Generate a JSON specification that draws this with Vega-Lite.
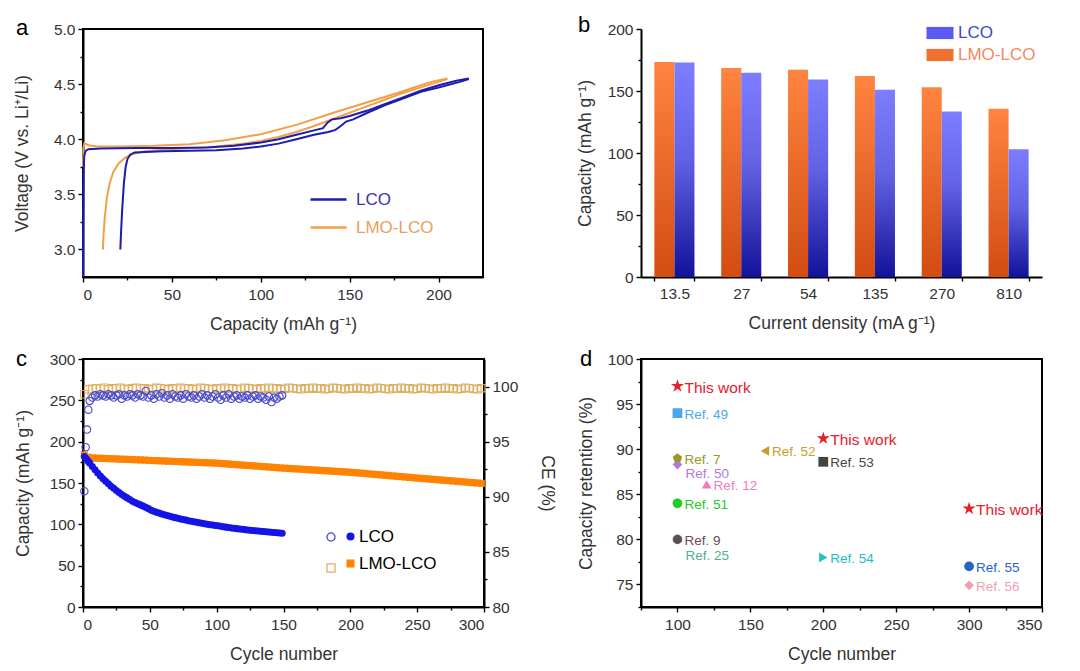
{
 "$schema": "https://vega.github.io/schema/vega-lite/v6.json",
 "background": "white",
 "padding": {"left": 12, "top": 14, "right": 10, "bottom": 10},
 "bounds": "flush",
 "columns": 2,
 "spacing": {"row": 82, "column": 157},
 "resolve": {"scale": {"x": "independent", "y": "independent", "color": "independent", "shape": "independent", "stroke": "independent", "fill": "independent", "size": "independent", "xOffset": "independent"}},
 "config": {
  "font": "Liberation Sans",
  "view": {"stroke": "#000", "strokeWidth": 2},
  "axis": {"grid": false, "domainColor": "#000", "domainWidth": 2, "tickColor": "#000", "tickWidth": 1.4, "labelFontSize": 15.5, "labelColor": "#333", "titleFontSize": 17.5, "titleColor": "#333", "titleFontWeight": "normal", "labelFont": "Liberation Sans", "titleFont": "Liberation Sans"},
  "axisX": {"labelPadding": 5, "titlePadding": 13},
  "axisY": {"labelPadding": 3},
  "title": {"fontSize": 22, "fontWeight": "normal", "anchor": "start", "frame": "group", "color": "#000", "offset": 0, "baseline": "alphabetic", "font": "Liberation Sans"},
  "legend": {"labelFont": "Liberation Sans"}
 },
 "concat": [
    {
     "width": 400, "height": 248,
     "title": {"text": "a", "dx": -67, "dy": 22},
     "data": {"values": [
      {"m":"LMO-LCO","k":"LMO-c","i":1,"x":0,"v":3.75},
      {"m":"LMO-LCO","k":"LMO-c","i":2,"x":0.2,"v":3.92},
      {"m":"LMO-LCO","k":"LMO-c","i":3,"x":0.8,"v":3.965},
      {"m":"LMO-LCO","k":"LMO-c","i":4,"x":3,"v":3.945},
      {"m":"LMO-LCO","k":"LMO-c","i":5,"x":8,"v":3.935},
      {"m":"LMO-LCO","k":"LMO-c","i":6,"x":20,"v":3.935},
      {"m":"LMO-LCO","k":"LMO-c","i":7,"x":40,"v":3.94},
      {"m":"LMO-LCO","k":"LMO-c","i":8,"x":60,"v":3.955},
      {"m":"LMO-LCO","k":"LMO-c","i":9,"x":80,"v":3.99},
      {"m":"LMO-LCO","k":"LMO-c","i":10,"x":100,"v":4.045},
      {"m":"LMO-LCO","k":"LMO-c","i":11,"x":120,"v":4.13},
      {"m":"LMO-LCO","k":"LMO-c","i":12,"x":140,"v":4.235},
      {"m":"LMO-LCO","k":"LMO-c","i":13,"x":160,"v":4.335},
      {"m":"LMO-LCO","k":"LMO-c","i":14,"x":170,"v":4.385},
      {"m":"LMO-LCO","k":"LMO-c","i":15,"x":180,"v":4.435},
      {"m":"LMO-LCO","k":"LMO-c","i":16,"x":190,"v":4.49},
      {"m":"LMO-LCO","k":"LMO-c","i":17,"x":197,"v":4.525},
      {"m":"LMO-LCO","k":"LMO-c","i":18,"x":205,"v":4.55},
      {"m":"LMO-LCO","k":"LMO-d","i":1,"x":205,"v":4.545},
      {"m":"LMO-LCO","k":"LMO-d","i":2,"x":200,"v":4.52},
      {"m":"LMO-LCO","k":"LMO-d","i":3,"x":190,"v":4.47},
      {"m":"LMO-LCO","k":"LMO-d","i":4,"x":180,"v":4.42},
      {"m":"LMO-LCO","k":"LMO-d","i":5,"x":170,"v":4.36},
      {"m":"LMO-LCO","k":"LMO-d","i":6,"x":160,"v":4.3},
      {"m":"LMO-LCO","k":"LMO-d","i":7,"x":150,"v":4.24},
      {"m":"LMO-LCO","k":"LMO-d","i":8,"x":140,"v":4.18},
      {"m":"LMO-LCO","k":"LMO-d","i":9,"x":130,"v":4.12},
      {"m":"LMO-LCO","k":"LMO-d","i":10,"x":120,"v":4.065},
      {"m":"LMO-LCO","k":"LMO-d","i":11,"x":110,"v":4.02},
      {"m":"LMO-LCO","k":"LMO-d","i":12,"x":100,"v":3.985},
      {"m":"LMO-LCO","k":"LMO-d","i":13,"x":90,"v":3.96},
      {"m":"LMO-LCO","k":"LMO-d","i":14,"x":75,"v":3.935},
      {"m":"LMO-LCO","k":"LMO-d","i":15,"x":60,"v":3.92},
      {"m":"LMO-LCO","k":"LMO-d","i":16,"x":45,"v":3.905},
      {"m":"LMO-LCO","k":"LMO-d","i":17,"x":35,"v":3.89},
      {"m":"LMO-LCO","k":"LMO-d","i":18,"x":28,"v":3.865},
      {"m":"LMO-LCO","k":"LMO-d","i":19,"x":24,"v":3.835},
      {"m":"LMO-LCO","k":"LMO-d","i":20,"x":20,"v":3.78},
      {"m":"LMO-LCO","k":"LMO-d","i":21,"x":17,"v":3.7},
      {"m":"LMO-LCO","k":"LMO-d","i":22,"x":15,"v":3.6},
      {"m":"LMO-LCO","k":"LMO-d","i":23,"x":13.5,"v":3.48},
      {"m":"LMO-LCO","k":"LMO-d","i":24,"x":12.3,"v":3.3},
      {"m":"LMO-LCO","k":"LMO-d","i":25,"x":11.5,"v":3.12},
      {"m":"LMO-LCO","k":"LMO-d","i":26,"x":11.2,"v":3.0},
      {"m":"LCO","k":"LCO-c","i":1,"x":0,"v":2.75},
      {"m":"LCO","k":"LCO-c","i":2,"x":0.15,"v":3.3},
      {"m":"LCO","k":"LCO-c","i":3,"x":0.35,"v":3.7},
      {"m":"LCO","k":"LCO-c","i":4,"x":0.7,"v":3.85},
      {"m":"LCO","k":"LCO-c","i":5,"x":1.5,"v":3.895},
      {"m":"LCO","k":"LCO-c","i":6,"x":3,"v":3.91},
      {"m":"LCO","k":"LCO-c","i":7,"x":10,"v":3.915},
      {"m":"LCO","k":"LCO-c","i":8,"x":30,"v":3.92},
      {"m":"LCO","k":"LCO-c","i":9,"x":50,"v":3.92},
      {"m":"LCO","k":"LCO-c","i":10,"x":70,"v":3.925},
      {"m":"LCO","k":"LCO-c","i":11,"x":85,"v":3.94},
      {"m":"LCO","k":"LCO-c","i":12,"x":100,"v":3.97},
      {"m":"LCO","k":"LCO-c","i":13,"x":110,"v":4.0},
      {"m":"LCO","k":"LCO-c","i":14,"x":120,"v":4.04},
      {"m":"LCO","k":"LCO-c","i":15,"x":130,"v":4.08},
      {"m":"LCO","k":"LCO-c","i":16,"x":135,"v":4.1},
      {"m":"LCO","k":"LCO-c","i":17,"x":137.5,"v":4.15},
      {"m":"LCO","k":"LCO-c","i":18,"x":140,"v":4.18},
      {"m":"LCO","k":"LCO-c","i":19,"x":145,"v":4.19},
      {"m":"LCO","k":"LCO-c","i":20,"x":150,"v":4.21},
      {"m":"LCO","k":"LCO-c","i":21,"x":160,"v":4.26},
      {"m":"LCO","k":"LCO-c","i":22,"x":170,"v":4.32},
      {"m":"LCO","k":"LCO-c","i":23,"x":180,"v":4.38},
      {"m":"LCO","k":"LCO-c","i":24,"x":190,"v":4.44},
      {"m":"LCO","k":"LCO-c","i":25,"x":200,"v":4.49},
      {"m":"LCO","k":"LCO-c","i":26,"x":210,"v":4.53},
      {"m":"LCO","k":"LCO-c","i":27,"x":217,"v":4.55},
      {"m":"LCO","k":"LCO-d","i":1,"x":217,"v":4.545},
      {"m":"LCO","k":"LCO-d","i":2,"x":212,"v":4.52},
      {"m":"LCO","k":"LCO-d","i":3,"x":200,"v":4.47},
      {"m":"LCO","k":"LCO-d","i":4,"x":190,"v":4.43},
      {"m":"LCO","k":"LCO-d","i":5,"x":180,"v":4.37},
      {"m":"LCO","k":"LCO-d","i":6,"x":170,"v":4.31},
      {"m":"LCO","k":"LCO-d","i":7,"x":160,"v":4.24},
      {"m":"LCO","k":"LCO-d","i":8,"x":152,"v":4.18},
      {"m":"LCO","k":"LCO-d","i":9,"x":148,"v":4.16},
      {"m":"LCO","k":"LCO-d","i":10,"x":145,"v":4.12},
      {"m":"LCO","k":"LCO-d","i":11,"x":142,"v":4.085},
      {"m":"LCO","k":"LCO-d","i":12,"x":138,"v":4.065},
      {"m":"LCO","k":"LCO-d","i":13,"x":130,"v":4.04},
      {"m":"LCO","k":"LCO-d","i":14,"x":120,"v":4.0},
      {"m":"LCO","k":"LCO-d","i":15,"x":110,"v":3.96},
      {"m":"LCO","k":"LCO-d","i":16,"x":100,"v":3.935},
      {"m":"LCO","k":"LCO-d","i":17,"x":90,"v":3.915},
      {"m":"LCO","k":"LCO-d","i":18,"x":75,"v":3.9},
      {"m":"LCO","k":"LCO-d","i":19,"x":60,"v":3.895},
      {"m":"LCO","k":"LCO-d","i":20,"x":45,"v":3.89},
      {"m":"LCO","k":"LCO-d","i":21,"x":35,"v":3.885},
      {"m":"LCO","k":"LCO-d","i":22,"x":29,"v":3.88},
      {"m":"LCO","k":"LCO-d","i":23,"x":26.5,"v":3.86},
      {"m":"LCO","k":"LCO-d","i":24,"x":25,"v":3.82},
      {"m":"LCO","k":"LCO-d","i":25,"x":24,"v":3.75},
      {"m":"LCO","k":"LCO-d","i":26,"x":23,"v":3.6},
      {"m":"LCO","k":"LCO-d","i":27,"x":22,"v":3.35},
      {"m":"LCO","k":"LCO-d","i":28,"x":21.3,"v":3.12},
      {"m":"LCO","k":"LCO-d","i":29,"x":21,"v":3.0}
     ]},
     "mark": {"type": "line", "strokeWidth": 2},
     "encoding": {
      "x": {"field": "x", "type": "quantitative", "scale": {"domain": [0, 225], "nice": false},
            "axis": {"title": "Capacity (mAh g⁻¹)", "values": [0,25,50,75,100,125,150,175,200], "labelExpr": "datum.value % 50 == 0 ? datum.label : ''", "tickSize": {"condition": {"test": "datum.value % 50 == 0", "value": 5}, "value": 3}}},
      "y": {"field": "v", "type": "quantitative", "scale": {"domain": [2.75, 5.0], "nice": false, "zero": false},
            "axis": {"title": "Voltage (V vs. Li⁺/Li)", "titlePadding": 22, "format": ".1f", "values": [3.0,3.25,3.5,3.75,4.0,4.25,4.5,4.75,5.0], "labelExpr": "abs(datum.value*2 - round(datum.value*2)) < 0.001 ? datum.label : ''", "tickSize": {"condition": {"test": "abs(datum.value*2 - round(datum.value*2)) < 0.001", "value": 5}, "value": 3}}},
      "color": {"field": "m", "type": "nominal", "scale": {"domain": ["LCO", "LMO-LCO"], "range": ["#1c1cae", "#f2a046"]},
                "legend": {"title": null, "orient": "none", "legendX": 226, "legendY": 151, "symbolType": "stroke", "symbolSize": 1300, "symbolStrokeWidth": 2.5, "labelFontSize": 17, "labelOffset": 8, "rowPadding": -9, "padding": 0,
                           "encode": {"labels": {"update": {"fill": {"signal": "datum.label == 'LCO' ? '#3535a8' : '#e8a060'"}}}}}},
      "detail": {"field": "k"},
      "order": {"field": "i", "type": "quantitative"}
     }
    },
    {
     "width": 401, "height": 248,
     "title": {"text": "b", "dx": -63, "dy": 22},
     "view": {"stroke": null},
     "data": {"values": [
      {"d":"13.5","m":"LMO-LCO","q":173.4},{"d":"13.5","m":"LCO","q":172.9},
      {"d":"27","m":"LMO-LCO","q":168.6},{"d":"27","m":"LCO","q":164.8},
      {"d":"54","m":"LMO-LCO","q":167.2},{"d":"54","m":"LCO","q":159.2},
      {"d":"135","m":"LMO-LCO","q":162.1},{"d":"135","m":"LCO","q":151.1},
      {"d":"270","m":"LMO-LCO","q":153.0},{"d":"270","m":"LCO","q":133.4},
      {"d":"810","m":"LMO-LCO","q":135.6},{"d":"810","m":"LCO","q":103.1}
     ]},
     "encoding": {
      "x": {"field": "d", "type": "nominal", "sort": ["13.5","27","54","135","270","810"], "scale": {"paddingInner": 0.4, "paddingOuter": 0.2},
            "axis": {"title": "Current density (mA g⁻¹)", "labelAngle": 0, "tickBand": "extent", "tickSize": 4}},
      "xOffset": {"field": "m", "type": "nominal", "scale": {"domain": ["LMO-LCO", "LCO"]}},
      "y": {"field": "q", "type": "quantitative", "stack": null, "scale": {"domain": [0, 200], "nice": false},
            "axis": {"title": "Capacity (mAh g⁻¹)", "titlePadding": 13, "values": [0,25,50,75,100,125,150,175,200], "labelExpr": "datum.value % 50 == 0 ? datum.label : ''", "tickSize": {"condition": {"test": "datum.value % 50 == 0", "value": 5}, "value": 3}}}
     },
     "layer": [
      {"transform": [{"filter": "datum.m == 'LMO-LCO'"}],
       "mark": {"type": "bar", "color": {"gradient": "linear", "x1": 0, "y1": 0, "x2": 0, "y2": 1, "stops": [{"offset": 0, "color": "#ff8440"}, {"offset": 1, "color": "#d34c12"}]}}},
      {"transform": [{"filter": "datum.m == 'LCO'"}],
       "mark": {"type": "bar", "color": {"gradient": "linear", "x1": 0, "y1": 0, "x2": 0, "y2": 1, "stops": [{"offset": 0, "color": "#7d7dff"}, {"offset": 0.45, "color": "#6262e4"}, {"offset": 1, "color": "#12129a"}]}}},
      {"mark": {"type": "bar", "opacity": 0},
       "encoding": {"color": {"field": "m", "type": "nominal", "scale": {"domain": ["LCO", "LMO-LCO"], "range": ["#5a5af0", "#f07030"]},
         "legend": {"title": null, "orient": "none", "legendX": 285, "legendY": -10, "symbolType": "M-1,-0.45L1,-0.45L1,0.45L-1,0.45Z", "symbolSize": 730, "labelFontSize": 17, "labelOffset": 4, "rowPadding": -7, "padding": 0,
           "encode": {
             "symbols": {"update": {"opacity": {"value": 1}, "fillOpacity": {"value": 1}, "strokeWidth": {"value": 0}, "fill": {"signal": "datum.label == 'LCO' ? {gradient: 'linear', x1: 0, y1: 0, x2: 0, y2: 1, stops: [{offset: 0, color: '#8080ff'}, {offset: 1, color: '#2a2ab8'}]} : {gradient: 'linear', x1: 0, y1: 0, x2: 0, y2: 1, stops: [{offset: 0, color: '#ff8a48'}, {offset: 1, color: '#dc5418'}]}"}}},
             "labels": {"update": {"fill": {"signal": "datum.label == 'LCO' ? '#4646cc' : '#f08a60'"}}}
           }}}}}
     ]
    },
    {
     "width": 401, "height": 248,
     "title": {"text": "c", "dx": -67, "dy": 23},
     "data": {"values": [
      {"m":"LMO-LCO","c":1,"q":184,"e":99.3},{"m":"LMO-LCO","c":4,"q":181,"e":99.75},{"m":"LMO-LCO","c":7,"q":180.3,"e":99.8},{"m":"LMO-LCO","c":10,"q":180.1,"e":99.85},
      {"m":"LMO-LCO","c":13,"q":179.9,"e":99.8},{"m":"LMO-LCO","c":16,"q":179.7,"e":99.9},{"m":"LMO-LCO","c":19,"q":179.5,"e":99.75},{"m":"LMO-LCO","c":22,"q":179.3,"e":99.85},
      {"m":"LMO-LCO","c":25,"q":179.1,"e":99.8},{"m":"LMO-LCO","c":28,"q":178.9,"e":99.9},{"m":"LMO-LCO","c":31,"q":178.7,"e":99.8},{"m":"LMO-LCO","c":34,"q":178.5,"e":99.75},
      {"m":"LMO-LCO","c":37,"q":178.3,"e":99.85},{"m":"LMO-LCO","c":40,"q":178.1,"e":99.9},{"m":"LMO-LCO","c":43,"q":177.9,"e":99.8},{"m":"LMO-LCO","c":46,"q":177.7,"e":99.85},
      {"m":"LMO-LCO","c":49,"q":177.4,"e":99.75},{"m":"LMO-LCO","c":52,"q":177.2,"e":99.8},{"m":"LMO-LCO","c":55,"q":177.0,"e":99.9},{"m":"LMO-LCO","c":58,"q":176.8,"e":99.85},
      {"m":"LMO-LCO","c":61,"q":176.6,"e":99.8},{"m":"LMO-LCO","c":64,"q":176.4,"e":99.75},{"m":"LMO-LCO","c":67,"q":176.2,"e":99.85},{"m":"LMO-LCO","c":70,"q":176.0,"e":99.8},
      {"m":"LMO-LCO","c":73,"q":175.8,"e":99.9},{"m":"LMO-LCO","c":76,"q":175.6,"e":99.8},{"m":"LMO-LCO","c":79,"q":175.4,"e":99.85},{"m":"LMO-LCO","c":82,"q":175.2,"e":99.75},
      {"m":"LMO-LCO","c":85,"q":175.0,"e":99.8},{"m":"LMO-LCO","c":88,"q":174.8,"e":99.9},{"m":"LMO-LCO","c":91,"q":174.6,"e":99.85},{"m":"LMO-LCO","c":94,"q":174.4,"e":99.8},
      {"m":"LMO-LCO","c":97,"q":174.2,"e":99.75},{"m":"LMO-LCO","c":100,"q":174.0,"e":99.85},{"m":"LMO-LCO","c":103,"q":173.6,"e":99.8},{"m":"LMO-LCO","c":106,"q":173.3,"e":99.9},
      {"m":"LMO-LCO","c":109,"q":172.9,"e":99.8},{"m":"LMO-LCO","c":112,"q":172.6,"e":99.85},{"m":"LMO-LCO","c":115,"q":172.2,"e":99.75},{"m":"LMO-LCO","c":118,"q":171.8,"e":99.8},
      {"m":"LMO-LCO","c":121,"q":171.5,"e":99.9},{"m":"LMO-LCO","c":124,"q":171.1,"e":99.85},{"m":"LMO-LCO","c":127,"q":170.8,"e":99.8},{"m":"LMO-LCO","c":130,"q":170.4,"e":99.75},
      {"m":"LMO-LCO","c":133,"q":170.0,"e":99.85},{"m":"LMO-LCO","c":136,"q":169.7,"e":99.8},{"m":"LMO-LCO","c":139,"q":169.3,"e":99.9},{"m":"LMO-LCO","c":142,"q":169.0,"e":99.8},
      {"m":"LMO-LCO","c":145,"q":168.6,"e":99.85},{"m":"LMO-LCO","c":148,"q":168.2,"e":99.75},{"m":"LMO-LCO","c":151,"q":167.9,"e":99.8},{"m":"LMO-LCO","c":154,"q":167.6,"e":99.9},
      {"m":"LMO-LCO","c":157,"q":167.3,"e":99.85},{"m":"LMO-LCO","c":160,"q":167.0,"e":99.8},{"m":"LMO-LCO","c":163,"q":166.7,"e":99.75},{"m":"LMO-LCO","c":166,"q":166.4,"e":99.85},
      {"m":"LMO-LCO","c":169,"q":166.1,"e":99.8},{"m":"LMO-LCO","c":172,"q":165.8,"e":99.9},{"m":"LMO-LCO","c":175,"q":165.5,"e":99.8},{"m":"LMO-LCO","c":178,"q":165.2,"e":99.85},
      {"m":"LMO-LCO","c":181,"q":164.9,"e":99.75},{"m":"LMO-LCO","c":184,"q":164.6,"e":99.8},{"m":"LMO-LCO","c":187,"q":164.3,"e":99.9},{"m":"LMO-LCO","c":190,"q":164.0,"e":99.85},
      {"m":"LMO-LCO","c":193,"q":163.7,"e":99.8},{"m":"LMO-LCO","c":196,"q":163.4,"e":99.75},{"m":"LMO-LCO","c":199,"q":163.1,"e":99.85},{"m":"LMO-LCO","c":202,"q":162.7,"e":99.8},
      {"m":"LMO-LCO","c":205,"q":162.3,"e":99.9},{"m":"LMO-LCO","c":208,"q":161.9,"e":99.8},{"m":"LMO-LCO","c":211,"q":161.5,"e":99.85},{"m":"LMO-LCO","c":214,"q":161.0,"e":99.75},
      {"m":"LMO-LCO","c":217,"q":160.6,"e":99.8},{"m":"LMO-LCO","c":220,"q":160.2,"e":99.9},{"m":"LMO-LCO","c":223,"q":159.8,"e":99.85},{"m":"LMO-LCO","c":226,"q":159.4,"e":99.8},
      {"m":"LMO-LCO","c":229,"q":158.9,"e":99.75},{"m":"LMO-LCO","c":232,"q":158.5,"e":99.85},{"m":"LMO-LCO","c":235,"q":158.1,"e":99.8},{"m":"LMO-LCO","c":238,"q":157.7,"e":99.9},
      {"m":"LMO-LCO","c":241,"q":157.3,"e":99.8},{"m":"LMO-LCO","c":244,"q":156.8,"e":99.85},{"m":"LMO-LCO","c":247,"q":156.4,"e":99.75},{"m":"LMO-LCO","c":250,"q":156.0,"e":99.8},
      {"m":"LMO-LCO","c":253,"q":155.6,"e":99.9},{"m":"LMO-LCO","c":256,"q":155.2,"e":99.85},{"m":"LMO-LCO","c":259,"q":154.8,"e":99.8},{"m":"LMO-LCO","c":262,"q":154.4,"e":99.75},
      {"m":"LMO-LCO","c":265,"q":154.0,"e":99.85},{"m":"LMO-LCO","c":268,"q":153.6,"e":99.8},{"m":"LMO-LCO","c":271,"q":153.2,"e":99.9},{"m":"LMO-LCO","c":274,"q":152.8,"e":99.8},
      {"m":"LMO-LCO","c":277,"q":152.4,"e":99.85},{"m":"LMO-LCO","c":280,"q":152.0,"e":99.75},{"m":"LMO-LCO","c":283,"q":151.6,"e":99.8},{"m":"LMO-LCO","c":286,"q":151.2,"e":99.9},
      {"m":"LMO-LCO","c":289,"q":150.8,"e":99.85},{"m":"LMO-LCO","c":292,"q":150.4,"e":99.8},{"m":"LMO-LCO","c":295,"q":150.0,"e":99.75},{"m":"LMO-LCO","c":298,"q":149.6,"e":99.85},
      {"m":"LCO","c":1,"q":182,"e":90.5},{"m":"LCO","c":2,"q":180,"e":94.5},{"m":"LCO","c":3,"q":178,"e":96.1},{"m":"LCO","c":4,"q":176,"e":97.9},{"m":"LCO","c":5,"q":174,"e":98.7},
      {"m":"LCO","c":7,"q":170,"e":99.0},{"m":"LCO","c":9,"q":166,"e":99.2},{"m":"LCO","c":11,"q":162,"e":99.1},{"m":"LCO","c":13,"q":158.5,"e":99.3},
      {"m":"LCO","c":15,"q":155,"e":99.2},{"m":"LCO","c":17,"q":152,"e":99.1},{"m":"LCO","c":19,"q":149,"e":99.3},{"m":"LCO","c":21,"q":146,"e":99.2},
      {"m":"LCO","c":23,"q":143.5,"e":99.0},{"m":"LCO","c":25,"q":141,"e":99.2},{"m":"LCO","c":27,"q":138.5,"e":99.3},{"m":"LCO","c":29,"q":136,"e":98.9},
      {"m":"LCO","c":31,"q":134,"e":99.2},{"m":"LCO","c":33,"q":132,"e":99.1},{"m":"LCO","c":35,"q":130,"e":99.3},{"m":"LCO","c":37,"q":128,"e":99.2},
      {"m":"LCO","c":39,"q":126.5,"e":99.0},{"m":"LCO","c":41,"q":125,"e":99.3},{"m":"LCO","c":43,"q":123.5,"e":99.2},{"m":"LCO","c":45,"q":122,"e":99.1},
      {"m":"LCO","c":47,"q":120.5,"e":99.6},{"m":"LCO","c":49,"q":119,"e":99.0},{"m":"LCO","c":51,"q":117,"e":99.2},{"m":"LCO","c":53,"q":115.8,"e":98.9},
      {"m":"LCO","c":55,"q":114.7,"e":99.3},{"m":"LCO","c":57,"q":113.6,"e":99.1},{"m":"LCO","c":59,"q":112.6,"e":99.4},{"m":"LCO","c":61,"q":111.6,"e":99.0},
      {"m":"LCO","c":63,"q":110.7,"e":99.2},{"m":"LCO","c":65,"q":109.8,"e":98.9},{"m":"LCO","c":67,"q":108.9,"e":99.3},{"m":"LCO","c":69,"q":108.1,"e":99.1},
      {"m":"LCO","c":71,"q":107.3,"e":99.0},{"m":"LCO","c":73,"q":106.5,"e":99.2},{"m":"LCO","c":75,"q":105.8,"e":98.9},{"m":"LCO","c":77,"q":105.1,"e":99.3},
      {"m":"LCO","c":79,"q":104.4,"e":99.1},{"m":"LCO","c":81,"q":103.7,"e":99.0},{"m":"LCO","c":83,"q":103.1,"e":99.2},{"m":"LCO","c":85,"q":102.5,"e":98.9},
      {"m":"LCO","c":87,"q":101.9,"e":99.1},{"m":"LCO","c":89,"q":101.3,"e":99.3},{"m":"LCO","c":91,"q":100.7,"e":99.0},{"m":"LCO","c":93,"q":100.1,"e":99.2},
      {"m":"LCO","c":95,"q":99.6,"e":98.9},{"m":"LCO","c":97,"q":99.1,"e":99.1},{"m":"LCO","c":99,"q":98.6,"e":99.3},{"m":"LCO","c":101,"q":98.2,"e":99.0},
      {"m":"LCO","c":103,"q":97.6,"e":98.8},{"m":"LCO","c":105,"q":97.1,"e":99.2},{"m":"LCO","c":107,"q":96.6,"e":99.0},{"m":"LCO","c":109,"q":96.1,"e":99.3},
      {"m":"LCO","c":111,"q":95.6,"e":98.9},{"m":"LCO","c":113,"q":95.2,"e":99.1},{"m":"LCO","c":115,"q":94.8,"e":99.2},{"m":"LCO","c":117,"q":94.4,"e":98.9},
      {"m":"LCO","c":119,"q":94.0,"e":99.1},{"m":"LCO","c":121,"q":93.6,"e":99.0},{"m":"LCO","c":123,"q":93.2,"e":99.2},{"m":"LCO","c":125,"q":92.8,"e":98.9},
      {"m":"LCO","c":127,"q":92.5,"e":99.1},{"m":"LCO","c":129,"q":92.2,"e":99.2},{"m":"LCO","c":131,"q":91.9,"e":98.9},{"m":"LCO","c":133,"q":91.6,"e":99.1},
      {"m":"LCO","c":135,"q":91.3,"e":99.0},{"m":"LCO","c":137,"q":91.0,"e":98.8},{"m":"LCO","c":139,"q":90.7,"e":99.1},{"m":"LCO","c":141,"q":90.4,"e":98.6},
      {"m":"LCO","c":143,"q":90.1,"e":99.0},{"m":"LCO","c":145,"q":89.8,"e":98.9},{"m":"LCO","c":147,"q":89.5,"e":99.1},{"m":"LCO","c":149,"q":89.3,"e":99.2}
     ]},
     "encoding": {
      "x": {"field": "c", "type": "quantitative", "scale": {"domain": [0, 300], "nice": false},
            "axis": {"title": "Cycle number", "values": [0,25,50,75,100,125,150,175,200,225,250,275,300], "labelExpr": "datum.value % 50 == 0 ? datum.label : ''", "tickSize": {"condition": {"test": "datum.value % 50 == 0", "value": 5}, "value": 3}}}
     },
     "layer": [
      {
       "mark": {"type": "point", "filled": false, "size": 55, "strokeWidth": 1.1, "opacity": 1},
       "encoding": {
        "y": {"field": "e", "type": "quantitative", "scale": {"domain": [80, 102.5], "nice": false, "zero": false},
              "axis": {"orient": "right", "title": "CE (%)", "titlePadding": 20, "format": "d", "values": [80,82.5,85,87.5,90,92.5,95,97.5,100], "labelExpr": "datum.value % 5 == 0 ? datum.label : ''", "tickSize": {"condition": {"test": "datum.value % 5 == 0", "value": 5}, "value": 3}}},
        "stroke": {"field": "m", "type": "nominal", "scale": {"range": ["#4848cc", "#e2ae5e"]},
                   "legend": {"title": null, "orient": "none", "legendX": 243, "legendY": 173, "labelExpr": "''", "symbolSize": 65, "symbolStrokeWidth": 1.3, "rowPadding": 17, "padding": 0}},
        "shape": {"field": "m", "type": "nominal", "scale": {"range": ["circle", "square"]}}
       }
      },
      {
       "transform": [{"calculate": "datum.m", "as": "mat"}],
       "mark": {"type": "point", "filled": true, "size": 50, "opacity": 1},
       "encoding": {
        "y": {"field": "q", "type": "quantitative", "scale": {"domain": [0, 300], "nice": false},
              "axis": {"orient": "left", "title": "Capacity (mAh g⁻¹)", "titlePadding": 17, "values": [0,25,50,75,100,125,150,175,200,225,250,275,300], "labelExpr": "datum.value % 50 == 0 ? datum.label : ''", "tickSize": {"condition": {"test": "datum.value % 50 == 0", "value": 5}, "value": 3}}},
        "fill": {"field": "mat", "type": "nominal", "scale": {"range": ["#1414e6", "#ff8200"]},
                 "legend": {"title": null, "orient": "none", "legendX": 259, "legendY": 169, "symbolSize": 65, "labelFontSize": 17, "labelOffset": 0, "rowPadding": 9, "padding": 0,
                            "encode": {"labels": {"update": {"fill": {"signal": "datum.label == 'LCO' ? '#2a2ab5' : '#e8a060'"}}}}}},
        "shape": {"field": "mat", "type": "nominal", "scale": {"range": ["circle", "square"]}}
       }
      }
     ],
     "resolve": {"scale": {"y": "independent", "shape": "independent", "stroke": "independent", "fill": "independent"}}
    },
    {
     "width": 401, "height": 248,
     "title": {"text": "d", "dx": -61, "dy": 23},
     "data": {"values": [
      {"ref":"This work","n":100,"r":97},
      {"ref":"This work","n":200,"r":91.2},
      {"ref":"This work","n":300,"r":83.4},
      {"ref":"Ref. 25","n":100,"r":80},
      {"ref":"Ref. 49","n":100,"r":94},
      {"ref":"Ref. 50","n":100,"r":88.3},
      {"ref":"Ref. 7","n":100,"r":89},
      {"ref":"Ref. 12","n":120,"r":86.1},
      {"ref":"Ref. 51","n":100,"r":84},
      {"ref":"Ref. 9","n":100,"r":80},
      {"ref":"Ref. 52","n":160,"r":89.8},
      {"ref":"Ref. 53","n":200,"r":88.6},
      {"ref":"Ref. 54","n":200,"r":78},
      {"ref":"Ref. 55","n":300,"r":77},
      {"ref":"Ref. 56","n":300,"r":74.9}
     ]},
     "encoding": {
      "x": {"field": "n", "type": "quantitative", "scale": {"domain": [75, 350], "nice": false, "zero": false},
            "axis": {"title": "Cycle number", "values": [75,100,125,150,175,200,225,250,275,300,325,350], "labelExpr": "datum.value % 50 == 0 ? datum.label : ''", "tickSize": {"condition": {"test": "datum.value % 50 == 0", "value": 5}, "value": 3}}},
      "y": {"field": "r", "type": "quantitative", "scale": {"domain": [72.5, 100], "nice": false, "zero": false},
            "axis": {"title": "Capacity retention (%)", "titlePadding": 12, "format": "d", "values": [72.5,75,77.5,80,82.5,85,87.5,90,92.5,95,97.5,100], "labelExpr": "datum.value % 5 == 0 ? datum.label : ''", "tickSize": {"condition": {"test": "datum.value % 5 == 0", "value": 5}, "value": 3}}},
      "color": {"field": "ref", "type": "nominal", "legend": null,
                "scale": {"domain": ["This work","Ref. 49","Ref. 7","Ref. 50","Ref. 12","Ref. 51","Ref. 9","Ref. 25","Ref. 52","Ref. 53","Ref. 54","Ref. 55","Ref. 56"],
                          "range": ["#e4202a","#4aa8e8","#9a9628","#b07ad8","#f07cc0","#22cc22","#6a4a52","#50b08a","#c8a028","#444444","#22c0c4","#2464c4","#f2a0b0"]}}
     },
     "layer": [
      {
       "mark": {"type": "point", "filled": true, "opacity": 1},
       "encoding": {
        "shape": {"field": "ref", "type": "nominal", "legend": null,
                  "scale": {"domain": ["This work","Ref. 49","Ref. 7","Ref. 50","Ref. 12","Ref. 51","Ref. 9","Ref. 25","Ref. 52","Ref. 53","Ref. 54","Ref. 55","Ref. 56"],
                            "range": ["M0,-1L0.2245,-0.309L0.951,-0.309L0.363,0.118L0.588,0.809L0,0.382L-0.588,0.809L-0.363,0.118L-0.951,-0.309L-0.2245,-0.309Z","square","M0,-1L0.951,-0.309L0.588,0.809L-0.588,0.809L-0.951,-0.309Z","diamond","triangle-up","circle","M0,-1L0.866,-0.5L0.866,0.5L0,1L-0.866,0.5L-0.866,-0.5Z","circle","triangle-left","square","triangle-right","circle","diamond"]}},
        "size": {"condition": {"test": "datum.ref == 'This work'", "value": 190}, "value": 95}
       }
      },
      {
       "transform": [{"filter": "datum.ref != 'Ref. 25' && datum.ref != 'Ref. 50'"}],
       "mark": {"type": "text", "align": "left", "baseline": "middle", "dx": 7, "dy": 1.5},
       "encoding": {"text": {"field": "ref"}, "size": {"condition": {"test": "datum.ref == 'This work'", "value": 15.5}, "value": 13.5}}
      },
      {
       "transform": [{"filter": "datum.ref == 'Ref. 50'"}],
       "mark": {"type": "text", "align": "left", "baseline": "middle", "dx": 8, "dy": 9, "fontSize": 13.5},
       "encoding": {"text": {"field": "ref"}}
      },
      {
       "transform": [{"filter": "datum.ref == 'Ref. 25'"}],
       "mark": {"type": "text", "align": "left", "baseline": "middle", "dx": 8, "dy": 17, "fontSize": 13.5},
       "encoding": {"text": {"field": "ref"}}
      }
     ]
    }
 ]
}
